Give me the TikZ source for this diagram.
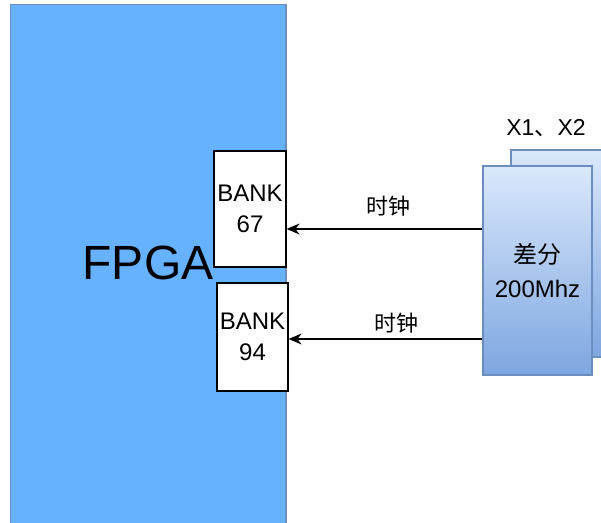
\documentclass[tikz,border=0pt]{standalone}
\usepackage{fontspec}
\setmainfont{Liberation Sans}
\newfontfamily\cjk{Noto Sans CJK SC}
\usetikzlibrary{arrows.meta}
\begin{document}
\begin{tikzpicture}[x=1pt,y=-1pt,
  bankbox/.style={draw=black, fill=white, line width=1.2pt, align=center, font=\fontsize{24}{31}\selectfont},
  oscbox/.style={draw=oscline, line width=1.2pt, top color=osctop, bottom color=oscbot},
  sig/.style={draw=black, line width=1.4pt, -{Stealth[length=13pt,width=11pt]}},
  lbl/.style={font=\cjk\fontsize{22}{24}\selectfont}
]
\definecolor{fpgablue}{HTML}{66B2FF}
\definecolor{oscline}{HTML}{6C8EBF}
\definecolor{osctop}{HTML}{DAE8FC}
\definecolor{oscbot}{HTML}{7EA6E0}
\useasboundingbox (0,0) rectangle (601,522);
% FPGA
\draw[draw=oscline, fill=fpgablue, line width=1.2pt] (10.5,4.5) rectangle (286,540);
\node[font=\fontsize{48}{52}\selectfont] (fpga) at (148,263) {FPGA};
% banks
\node[bankbox, minimum width=72pt, minimum height=116pt, inner sep=0pt] (b67) at (250,209) {BANK\\67};
\node[bankbox, minimum width=71pt, minimum height=108pt, inner sep=0pt] (b94) at (252.5,337) {BANK\\94};
% oscillators
\draw[oscbox] (511,150) rectangle (620,357);
\node[oscbox, minimum width=109pt, minimum height=209pt, inner sep=0pt, align=center,
      font=\fontsize{24}{34}\selectfont] (osc) at (537.5,270.5) {{\cjk 差分}\\200Mhz};
\node[font=\fontsize{23}{26}\selectfont] (xlabel) at (546,128) {X1{\cjk 、}X2};
% signals
\coordinate (s1) at (osc.west |- 0,229);
\coordinate (s2) at (osc.west |- 0,339);
\draw[sig] (s1) -- (b67.east |- s1) node[lbl, midway, above=9pt, xshift=4pt] (t1) {时钟};
\draw[sig] (s2) -- (b94.east |- s2) node[lbl, midway, above=2pt, xshift=11pt] (t2) {时钟};
\end{tikzpicture}
\end{document}
